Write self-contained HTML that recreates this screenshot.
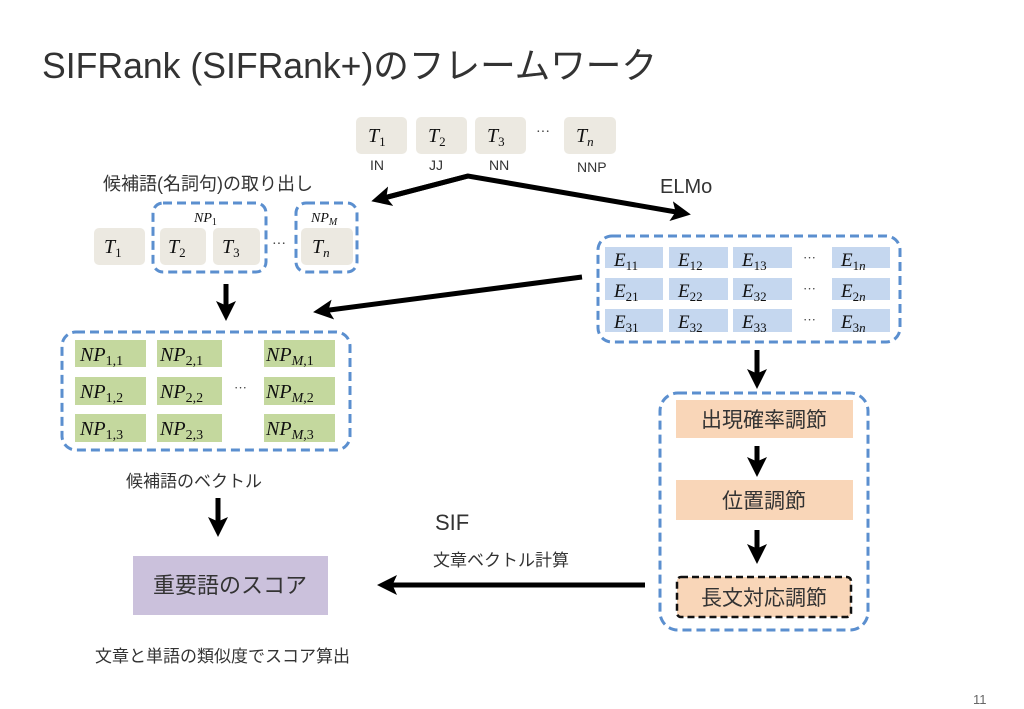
<!DOCTYPE html>
<html><head><meta charset="utf-8"><style>
html,body{margin:0;padding:0;background:#fff;}
svg{display:block;}
.jp{font-family:"Liberation Sans","Noto Sans CJK JP",sans-serif;fill:#333;}
.m{font-family:"Liberation Serif","DejaVu Serif",serif;font-style:italic;fill:#111;}
</style></head><body>
<svg width="1024" height="709" viewBox="0 0 1024 709" xmlns="http://www.w3.org/2000/svg">
<defs>
<marker id="ah" markerWidth="4" markerHeight="4" refX="2.2" refY="2" orient="auto" markerUnits="strokeWidth">
<path d="M0,0 L4,2 L0,4 L0.9,2 Z" fill="#000"/></marker>
</defs>
<text x="42" y="78" class="jp" font-size="36" textLength="615" lengthAdjust="spacingAndGlyphs">SIFRank (SIFRank+)のフレームワーク</text>

<!-- top tokens -->
<g fill="#ece9e1">
<rect x="356" y="117" width="51" height="37" rx="5"/>
<rect x="416" y="117" width="51" height="37" rx="5"/>
<rect x="475" y="117" width="51" height="37" rx="5"/>
<rect x="564" y="117" width="52" height="37" rx="5"/>
</g>
<g class="m" font-size="20">
<text x="368" y="142">T<tspan font-size="13" dy="4" font-style="normal">1</tspan></text>
<text x="428" y="142">T<tspan font-size="13" dy="4" font-style="normal">2</tspan></text>
<text x="487" y="142">T<tspan font-size="13" dy="4" font-style="normal">3</tspan></text>
<text x="576" y="142">T<tspan font-size="13" dy="4">n</tspan></text>
</g>
<text x="536" y="136" font-size="14" fill="#333">···</text>
<g class="jp" font-size="14">
<text x="370" y="170">IN</text><text x="429" y="170">JJ</text><text x="489" y="170">NN</text><text x="577" y="172">NNP</text>
</g>

<text x="103" y="190" class="jp" font-size="18">候補語(名詞句)の取り出し</text>
<text x="660" y="193" class="jp" font-size="20">ELMo</text>

<!-- left token row -->
<g fill="#ece9e1">
<rect x="94" y="228" width="51" height="37" rx="5"/>
<rect x="160" y="228" width="46" height="37" rx="5"/>
<rect x="213" y="228" width="47" height="37" rx="5"/>
<rect x="301" y="228" width="52" height="37" rx="5"/>
</g>
<g fill="none" stroke="#5b8fcf" stroke-width="3" stroke-dasharray="9,5">
<rect x="153" y="203" width="113" height="69" rx="10"/>
<rect x="296" y="203" width="61" height="69" rx="10"/>
</g>
<g class="m" font-size="20">
<text x="104" y="253">T<tspan font-size="13" dy="4" font-style="normal">1</tspan></text>
<text x="168" y="253">T<tspan font-size="13" dy="4" font-style="normal">2</tspan></text>
<text x="222" y="253">T<tspan font-size="13" dy="4" font-style="normal">3</tspan></text>
<text x="312" y="253">T<tspan font-size="13" dy="4">n</tspan></text>
<text x="194" y="222" font-size="14">NP<tspan font-size="10" dy="3" font-style="normal">1</tspan></text>
<text x="311" y="222" font-size="14">NP<tspan font-size="10" dy="3">M</tspan></text>
</g>
<text x="272" y="248" font-size="14" fill="#333">···</text>

<!-- arrows -->
<g stroke="#000" stroke-width="5" fill="none" marker-end="url(#ah)">
<polyline points="380,199 468,176 682,213" marker-start="none"/>
<line x1="582" y1="277" x2="322" y2="311"/>
<line x1="226" y1="284" x2="226" y2="312"/>
<line x1="218" y1="498" x2="218" y2="528"/>
<line x1="757" y1="350" x2="757" y2="380"/>
<line x1="757" y1="446" x2="757" y2="468"/>
<line x1="757" y1="530" x2="757" y2="555"/>
<line x1="645" y1="585" x2="386" y2="585"/>
</g>
<line x1="468" y1="176" x2="380" y2="199" stroke="#000" stroke-width="5" marker-end="url(#ah)"/>

<!-- E matrix -->
<rect x="598" y="236" width="302" height="106" rx="14" fill="none" stroke="#5b8fcf" stroke-width="3" stroke-dasharray="9,5"/>
<g fill="#c5d7ef">
<rect x="605" y="247" width="58" height="21"/><rect x="669" y="247" width="59" height="21"/><rect x="733" y="247" width="59" height="21"/><rect x="832" y="247" width="58" height="21"/>
<rect x="605" y="278" width="58" height="22"/><rect x="669" y="278" width="59" height="22"/><rect x="733" y="278" width="59" height="22"/><rect x="832" y="278" width="58" height="22"/>
<rect x="605" y="309" width="58" height="23"/><rect x="669" y="309" width="59" height="23"/><rect x="733" y="309" width="59" height="23"/><rect x="832" y="309" width="58" height="23"/>
</g>
<g class="m" font-size="19">
<text x="614" y="266">E<tspan font-size="13" dy="4" font-style="normal">11</tspan></text>
<text x="678" y="266">E<tspan font-size="13" dy="4" font-style="normal">12</tspan></text>
<text x="742" y="266">E<tspan font-size="13" dy="4" font-style="normal">13</tspan></text>
<text x="841" y="266">E<tspan font-size="13" dy="4" font-style="normal">1</tspan><tspan font-size="13">n</tspan></text>
<text x="614" y="297">E<tspan font-size="13" dy="4" font-style="normal">21</tspan></text>
<text x="678" y="297">E<tspan font-size="13" dy="4" font-style="normal">22</tspan></text>
<text x="742" y="297">E<tspan font-size="13" dy="4" font-style="normal">32</tspan></text>
<text x="841" y="297">E<tspan font-size="13" dy="4" font-style="normal">2</tspan><tspan font-size="13">n</tspan></text>
<text x="614" y="328">E<tspan font-size="13" dy="4" font-style="normal">31</tspan></text>
<text x="678" y="328">E<tspan font-size="13" dy="4" font-style="normal">32</tspan></text>
<text x="742" y="328">E<tspan font-size="13" dy="4" font-style="normal">33</tspan></text>
<text x="841" y="328">E<tspan font-size="13" dy="4" font-style="normal">3</tspan><tspan font-size="13">n</tspan></text>
</g>
<g font-size="13" fill="#333"><text x="803" y="262">···</text><text x="803" y="293">···</text><text x="803" y="324">···</text></g>

<!-- NP matrix -->
<rect x="62" y="332" width="288" height="118" rx="14" fill="none" stroke="#5b8fcf" stroke-width="3" stroke-dasharray="9,5"/>
<g fill="#c4d89e">
<rect x="75" y="340" width="71" height="27"/><rect x="157" y="340" width="65" height="27"/><rect x="264" y="340" width="71" height="27"/>
<rect x="75" y="377" width="71" height="28"/><rect x="157" y="377" width="65" height="28"/><rect x="264" y="377" width="71" height="28"/>
<rect x="75" y="414" width="71" height="28"/><rect x="157" y="414" width="65" height="28"/><rect x="264" y="414" width="71" height="28"/>
</g>
<g class="m" font-size="20">
<text x="80" y="361">NP<tspan font-size="14" dy="4" font-style="normal">1,1</tspan></text>
<text x="160" y="361">NP<tspan font-size="14" dy="4" font-style="normal">2,1</tspan></text>
<text x="266" y="361">NP<tspan font-size="14" dy="4">M</tspan><tspan font-size="14" font-style="normal">,1</tspan></text>
<text x="80" y="398">NP<tspan font-size="14" dy="4" font-style="normal">1,2</tspan></text>
<text x="160" y="398">NP<tspan font-size="14" dy="4" font-style="normal">2,2</tspan></text>
<text x="266" y="398">NP<tspan font-size="14" dy="4">M</tspan><tspan font-size="14" font-style="normal">,2</tspan></text>
<text x="80" y="435">NP<tspan font-size="14" dy="4" font-style="normal">1,3</tspan></text>
<text x="160" y="435">NP<tspan font-size="14" dy="4" font-style="normal">2,3</tspan></text>
<text x="266" y="435">NP<tspan font-size="14" dy="4">M</tspan><tspan font-size="14" font-style="normal">,3</tspan></text>
</g>
<text x="234" y="392" font-size="13" fill="#333">···</text>

<text x="126" y="487" class="jp" font-size="17">候補語のベクトル</text>
<rect x="133" y="556" width="195" height="59" fill="#cbc1dc"/>
<text x="230" y="593" class="jp" font-size="22" text-anchor="middle">重要語のスコア</text>
<text x="95" y="662" class="jp" font-size="17">文章と単語の類似度でスコア算出</text>

<text x="435" y="530" class="jp" font-size="22">SIF</text>
<text x="433" y="566" class="jp" font-size="17">文章ベクトル計算</text>

<!-- right pipeline -->
<rect x="660" y="393" width="208" height="237" rx="18" fill="none" stroke="#5b8fcf" stroke-width="3" stroke-dasharray="9,5"/>
<g fill="#f9d6b8">
<rect x="676" y="400" width="177" height="38"/>
<rect x="676" y="480" width="177" height="40"/>
<rect x="677" y="577" width="174" height="40" rx="4"/>
</g>
<rect x="677" y="577" width="174" height="40" rx="4" fill="none" stroke="#111" stroke-width="2.5" stroke-dasharray="7,4"/>
<g class="jp" font-size="21" text-anchor="middle">
<text x="764" y="427">出現確率調節</text>
<text x="764" y="508">位置調節</text>
<text x="764" y="605">長文対応調節</text>
</g>

<text x="973" y="704" font-size="13" fill="#666" font-family="Liberation Sans,sans-serif">11</text>
</svg>
</body></html>
